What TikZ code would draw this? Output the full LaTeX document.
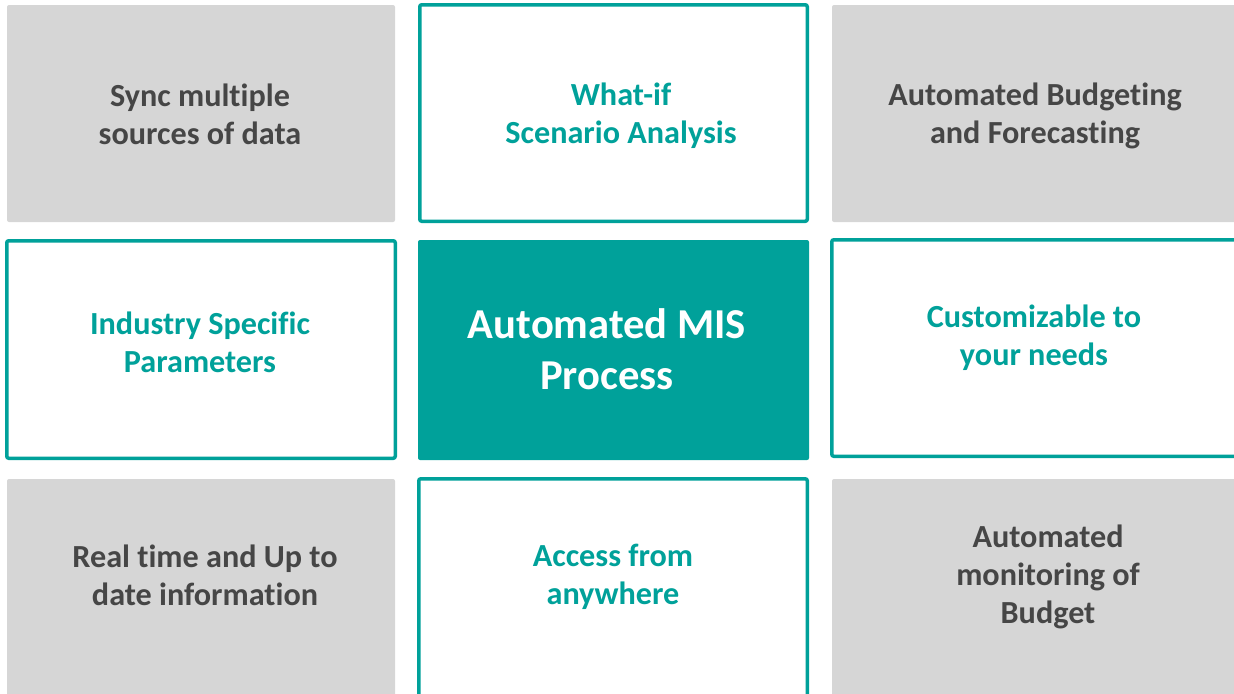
\documentclass[tikz,border=0pt]{standalone}
\usepackage{fontspec}
\setmainfont[Ligatures=NoCommon]{Carlito}
\definecolor{teal1}{HTML}{00A19A}
\definecolor{gfill}{HTML}{D6D6D6}
\definecolor{gtext}{HTML}{464646}
\begin{document}
\begin{tikzpicture}[x=0.5pt,y=-0.5pt,
  box/.style={rectangle, inner sep=0pt, rounded corners=1pt},
  graybox/.style={box, fill=gfill},
  whitebox/.style={box, fill=white, draw=teal1, line width=1.75pt},
  tealbox/.style={box, fill=teal1},
  graytext/.style={align=center, text=gtext, font=\fontsize{16.1}{19}\selectfont\bfseries, inner sep=0pt},
  tealtext/.style={align=center, text=teal1, font=\fontsize{16.1}{19}\selectfont\bfseries, inner sep=0pt},
  maintext/.style={align=center, text=white, font=\fontsize{21.3}{25.5}\selectfont\bfseries, inner sep=0pt}]
\useasboundingbox (0,0) rectangle (1234,693);
\clip (0,0) rectangle (1234,693);
\node[graybox, minimum width=194pt, minimum height=108.5pt] (b1) at (201,113.5) {};
\node[whitebox, minimum width=193.75pt, minimum height=108.25pt] (b2) at (613.5,113) {};
\node[graybox, minimum width=204pt, minimum height=108.5pt] (b3) at (1036,113.5) {};
\node[whitebox, minimum width=194.25pt, minimum height=108.75pt] (b4) at (201,349.5) {};
\node[tealbox, minimum width=195.5pt, minimum height=110pt] (b5) at (613.5,350) {};
\node[whitebox, minimum width=206.6pt, minimum height=108.25pt] (b6) at (1038.4,348) {};
\node[graybox, minimum width=194pt, minimum height=113pt] (b7) at (201,592) {};
\node[whitebox, minimum width=194.25pt, minimum height=115.6pt] (b8) at (613,594.4) {};
\node[graybox, minimum width=204pt, minimum height=113pt] (b9) at (1036,592) {};
\node[graytext] (t1) at (200,114) {Sync multiple\\sources of data};
\node[tealtext] (t2) at (621,116) {What-if\\Scenario Analysis};
\node[graytext] (t3) at (1035,116) {Automated Budgeting\\and Forecasting};
\node[tealtext] (t4) at (200,342) {Industry Specific\\Parameters};
\node[maintext] (t5) at (607,349.5) {Automated MIS\\Process};
\node[tealtext] (t6) at (1034,338) {Customizable to\\your needs};
\node[graytext] (t7) at (205,575) {Real time and Up to\\date information};
\node[tealtext] (t8) at (613,577) {Access from\\anywhere};
\node[graytext] (t9) at (1048,577) {Automated\\monitoring of\\Budget};
\end{tikzpicture}
\end{document}
